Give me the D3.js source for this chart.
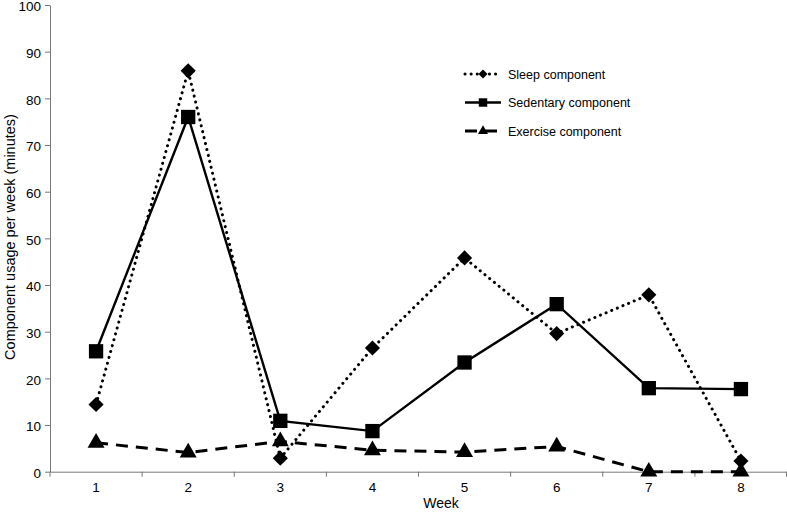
<!DOCTYPE html>
<html>
<head>
<meta charset="utf-8">
<script src="https://cdn.jsdelivr.net/npm/d3@7"></script>
<style>
  body { margin: 0; background: #fff; }
  text { font-family: "Liberation Sans", Arial, sans-serif; fill: #000; }
</style>
</head>
<body>
<script>
var w = 787;
var h = 512;

// weeks on the x axis
var weeks = [1, 2, 3, 4, 5, 6, 7, 8];
var yTicks = [0, 10, 20, 30, 40, 50, 60, 70, 80, 90, 100];

// minutes per week
var sleep = [14.4, 85.9, 2.9, 26.5, 45.8, 29.6, 37.9, 2.3];
var sedentary = [25.8, 76.0, 10.9, 8.7, 23.4, 35.9, 17.9, 17.7];
var exercise = [6.2, 4.1, 6.5, 4.6, 4.2, 5.4, 0, 0];

var seriesNames = ["Sleep component", "Sedentary component", "Exercise component"];

// diamond = square turned 45 degrees
var series = [
    { name: seriesNames[0], values: sleep, dash: "0.1 6", cap: "round", width: 3, symbol: d3.symbolSquare, size: 115, rot: 45 },
    { name: seriesNames[1], values: sedentary, dash: null, cap: "butt", width: 2.4, symbol: d3.symbolSquare, size: 205, rot: 0 },
    { name: seriesNames[2], values: exercise, dash: "12 8", cap: "butt", width: 3, symbol: d3.symbolTriangle, size: 125, rot: 0 }
];

var margin = { left: 50, right: 0, top: 5, bottom: 40 };

var xScale = d3.scaleBand()
    .domain(weeks)
    .range([margin.left, w - margin.right]);

var yScale = d3.scaleLinear()
    .domain([0, 100])
    .range([471.7, 5]);

var svg = d3.select("body")
    .append("svg")
    .attr("width", w)
    .attr("height", h);

/*
    Axes: grey lines, ticks poking outwards.
*/
var xAxis = d3.axisBottom(xScale).tickSize(5).tickSizeOuter(0).tickPadding(6);
var yAxis = d3.axisLeft(yScale).tickValues(yTicks).tickSize(5).tickSizeOuter(0).tickPadding(4);

var gx = svg.append("g")
    .attr("transform", "translate(0," + yScale(0) + ")")
    .call(xAxis);
// excel style: ticks between categories instead of at centres
gx.selectAll(".tick line").attr("x1", -xScale.bandwidth() / 2).attr("x2", -xScale.bandwidth() / 2);
gx.append("line")
    .attr("x1", w - 0.5).attr("x2", w - 0.5).attr("y1", 0).attr("y2", 5)
    .attr("stroke", "#777");

var gy = svg.append("g")
    .attr("transform", "translate(" + margin.left + ",0)")
    .call(yAxis);
gy.selectAll(".tick text").attr("dy", "0.42em");

svg.selectAll(".domain, .tick line").attr("stroke", "#777");
svg.selectAll(".tick text").style("font-size", "13.5px").attr("fill", "#000");

svg.append("text")
    .attr("x", 441)
    .attr("y", 508)
    .attr("text-anchor", "middle")
    .style("font-size", "14px")
    .text("Week");

svg.append("text")
    .attr("transform", "translate(15," + 237 + ") rotate(-90)")
    .attr("text-anchor", "middle")
    .style("font-size", "14.5px")
    .text("Component usage per week (minutes)");

/*
    Lines and markers for each series.
*/
var line = d3.line()
    .x(function(d, i) { return xScale(weeks[i]) + xScale.bandwidth() / 2; })
    .y(function(d) { return yScale(d); });

series.forEach(function(s) {
    svg.append("path")
        .datum(s.values)
        .attr("d", line)
        .attr("fill", "none")
        .attr("stroke", "#000")
        .attr("stroke-width", s.width)
        .attr("stroke-linecap", s.cap)
        .attr("stroke-dasharray", s.dash);
});

series.forEach(function(s) {
    svg.selectAll(null)
        .data(s.values)
        .enter()
        .append("path")
        .attr("d", d3.symbol().type(s.symbol).size(s.size))
        .attr("transform", function(d, i) {
            return "translate(" + (xScale(weeks[i]) + xScale.bandwidth() / 2) + "," + yScale(d) + ") rotate(" + s.rot + ")";
        })
        .attr("fill", "#000");
});

/*
    Legend.
*/
var legend = svg.append("g").attr("transform", "translate(463,74)");
series.forEach(function(s, i) {
    var g = legend.append("g").attr("transform", "translate(0," + (i * 28.5) + ")");
    g.append("line")
        .attr("x1", 2).attr("x2", 38)
        .attr("stroke", "#000")
        .attr("stroke-width", s.width)
        .attr("stroke-linecap", s.cap)
        .attr("stroke-dasharray", s.dash);
    g.append("path")
        .attr("d", d3.symbol().type(s.symbol).size(s.size * 0.35))
        .attr("transform", "translate(20,0) rotate(" + s.rot + ")")
        .attr("fill", "#000");
    g.append("text")
        .attr("x", 45)
        .attr("y", 4.5)
        .style("font-size", "12.5px")
        .text(s.name);
});
</script>
</body>
</html>
